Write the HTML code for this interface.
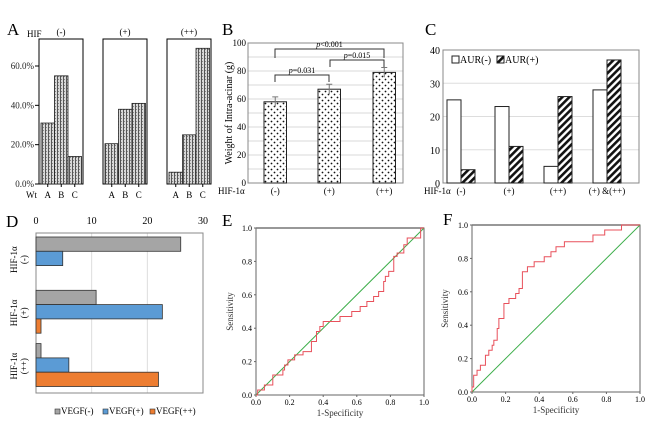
<!DOCTYPE html>
<html><head><meta charset="utf-8"><style>
body{margin:0;background:#fff}
svg{display:block;font-family:"Liberation Serif",serif}
</style></head><body>
<svg id="fig" width="650" height="429" xmlns="http://www.w3.org/2000/svg">
<defs>
<pattern id="pA" width="3" height="3" patternUnits="userSpaceOnUse"><rect width="3" height="3" fill="#d8d8d8"/><rect width="1" height="3" fill="#555"/><rect x="1" y="1" width="1" height="1" fill="#888"/></pattern>
<pattern id="pB" width="6" height="6" patternUnits="userSpaceOnUse"><rect width="6" height="6" fill="#fff"/><circle cx="1.5" cy="1.5" r="0.9" fill="#111"/><circle cx="4.5" cy="4.5" r="0.9" fill="#111"/></pattern>
<pattern id="pC" width="5" height="5" patternUnits="userSpaceOnUse" patternTransform="rotate(45)"><rect width="5" height="5" fill="#fff"/><rect width="2.6" height="5" fill="#111"/></pattern>
</defs>
<g id="root"></g>
</svg>
<script>
// Panel A data
const aGroups=["(-)","(+)","(++)"];
const aCats=["A","B","C"];
const aVals=[[31,55,14],[20.5,38,41],[6,25,69]];
const aTicks=[0,20,40,60];
// Panel B data
const bCats=["(-)","(+)","(++)"];
const bVals=[58,67,79];
const bErr=[3.5,3.5,3.5];
const bTicks=[0,20,40,60,80,100];
// Panel C data
const cCats=["(-)","(+)","(++)","(+) &(++)"];
const cNeg=[25,23,5,28];
const cPos=[4,11,26,37];
const cTicks=[0,10,20,30,40];
// Panel D data
const dGroups=[["HIF-1α","(-)"],["HIF-1α","(+)"],["HIF-1α","(++)"]];
const dNeg=[26,10.8,0.9];
const dPlus=[4.8,22.7,5.9];
const dPP=[0,0.9,22];
const dTicks=[0,10,20,30];
// Panel E ROC
const eFpr=[0,0.01,0.05,0.10,0.16,0.17,0.19,0.23,0.28,0.33,0.36,0.38,0.40,0.50,0.57,0.62,0.66,0.70,0.73,0.76,0.77,0.79,0.82,0.84,0.88,0.90,0.98,1.0];
const eTpr=[0,0.03,0.06,0.12,0.15,0.18,0.21,0.24,0.26,0.32,0.38,0.41,0.44,0.47,0.50,0.53,0.56,0.59,0.62,0.68,0.71,0.74,0.83,0.85,0.90,0.94,1.0,1.0];
// Panel F ROC
const fFpr=[0,0,0.01,0.03,0.05,0.08,0.10,0.12,0.13,0.15,0.16,0.19,0.22,0.26,0.28,0.30,0.33,0.37,0.43,0.47,0.50,0.55,0.72,0.79,0.89,1.0];
const fTpr=[0,0.03,0.10,0.13,0.16,0.22,0.25,0.28,0.31,0.38,0.44,0.53,0.56,0.59,0.62,0.72,0.75,0.78,0.81,0.84,0.87,0.90,0.94,0.97,1.0,1.0];
const rocTicks=[0,0.2,0.4,0.6,0.8,1.0];

const NS="http://www.w3.org/2000/svg";
const root=document.getElementById('root');
function mk(tag,attrs,parent,txt){const e=document.createElementNS(NS,tag);for(const k in attrs)e.setAttribute(k,attrs[k]);if(txt!==undefined)e.textContent=txt;(parent||root).appendChild(e);return e;}
function grp(name){const g=mk('g',{});return g;}

// ---------- Panel A ----------
const gA=grp('panel-a');
let t=mk('text',{x:7,y:35,'font-size':17},gA,'A');
const ayA=v=>184-v*(118/60);
t=mk('text',{x:27,y:37,'font-size':9},gA,'HIF');
aTicks.forEach(v=>{const l=mk('text',{x:34,y:ayA(v)+3,'font-size':9,'text-anchor':'end',fill:'#222'},gA,v.toFixed(1)+'%');mk('line',{x1:35,x2:39,y1:ayA(v),y2:ayA(v),stroke:'#000'},gA);});
const boxX=[39,103,167];
aGroups.forEach((gname,gi)=>{
  const bx=boxX[gi];
  const r=mk('rect',{x:bx,y:39,width:44,height:145,fill:'none',stroke:'#000'},gA);
  const h=mk('text',{x:bx+22,y:35,'font-size':9,'text-anchor':'middle'},gA,gname);
  aVals[gi].forEach((v,ci)=>{
    const x=bx+2+ci*13.5;
    const b=mk('rect',{x:x,y:ayA(v),width:13.5,height:184-ayA(v),fill:'url(#pA)',stroke:'#222','stroke-width':0.8},gA);
    
    mk('line',{x1:x+6.75,x2:x+6.75,y1:184,y2:187,stroke:'#000'},gA);
    const c=mk('text',{x:x+6.75,y:198,'font-size':9,'text-anchor':'middle'},gA,aCats[ci]);
  });
});
t=mk('text',{x:26,y:198,'font-size':9},gA,'Wt');

// ---------- Panel B ----------
const gB=grp('panel-b');
t=mk('text',{x:222,y:35,'font-size':17},gB,'B');
const byB=v=>183-v*1.4;
for(let v=10;v<=90;v+=10){const l=mk('line',{x1:248,x2:403,y1:byB(v),y2:byB(v),stroke:'#d9d9d9'},gB);}
mk('rect',{x:248,y:43,width:155,height:140,fill:'none',stroke:'#888'},gB);
bTicks.forEach(v=>{const l=mk('text',{x:246,y:byB(v)+3,'font-size':9,'text-anchor':'end'},gB,v);});
t=mk('text',{x:0,y:0,'font-size':10,'text-anchor':'middle',transform:'translate(232,113) rotate(-90)'},gB,'Weight of Intra-acinar (g)');
const bX=[264,318,373];
bVals.forEach((v,i)=>{
  const b=mk('rect',{x:bX[i],y:byB(v),width:22.5,height:183-byB(v),fill:'url(#pB)',stroke:'#222'},gB);
  const cx=bX[i]+11.25;
  const e=mk('path',{d:`M${cx},${byB(v-bErr[i])}V${byB(v+bErr[i])}M${cx-3},${byB(v+bErr[i])}H${cx+3}`,stroke:'#777',fill:'none'},gB);
  const c=mk('text',{x:cx,y:194,'font-size':9,'text-anchor':'middle'},gB,bCats[i]);
});
t=mk('text',{x:218,y:194,'font-size':9},gB,'HIF-1α');
function bracket(x1,x2,y,ly1,ly2,label){
  const p=mk('path',{d:`M${x1},${ly1}V${y}H${x2}V${ly2}`,fill:'none',stroke:'#333'},gB);
  const tx=mk('text',{x:(x1+x2)/2,y:y-2,'font-size':8,'text-anchor':'middle'},gB);
  mk('tspan',{'font-style':'italic'},tx,'p');mk('tspan',{},tx,label);
}
bracket(275,329,75,82,82,'=0.031');
bracket(330,384,60,67,67,'=0.015');
bracket(275,384,49,58,58,'<0.001');

// ---------- Panel C ----------
const gC=grp('panel-c');
t=mk('text',{x:425,y:35,'font-size':17},gC,'C');
const cyC=v=>183-v*3.325;
[10,20,30].forEach(v=>{const l=mk('line',{x1:443,x2:639,y1:cyC(v),y2:cyC(v),stroke:'#ddd'},gC);});
mk('rect',{x:443,y:50,width:196,height:133,fill:'none',stroke:'#888'},gC);
cTicks.forEach(v=>{const l=mk('text',{x:440,y:cyC(v)+4,'font-size':10,'text-anchor':'end'},gC,v);});
const cX=[447,495,544,593];
cCats.forEach((c,i)=>{
  const w=mk('rect',{x:cX[i],y:cyC(cNeg[i]),width:14,height:183-cyC(cNeg[i]),fill:'#fff',stroke:'#222'},gC);
  const h=mk('rect',{x:cX[i]+14,y:cyC(cPos[i]),width:14,height:183-cyC(cPos[i]),fill:'url(#pC)',stroke:'#222'},gC);
  const l=mk('text',{x:cX[i]+14,y:194,'font-size':9,'text-anchor':'middle'},gC,c);
});
t=mk('text',{x:424,y:194,'font-size':9},gC,'HIF-1α');
const lc=grp('c-legend');gC.appendChild(lc);
mk('rect',{x:452,y:56,width:7,height:7,fill:'#fff',stroke:'#222'},lc);
mk('text',{x:460,y:63,'font-size':10},lc,'AUR(-)');
mk('rect',{x:497,y:56,width:7,height:7,fill:'url(#pC)',stroke:'#222'},lc);
mk('text',{x:505,y:63,'font-size':10},lc,'AUR(+)');

// ---------- Panel D ----------
const gD=grp('panel-d');
t=mk('text',{x:6,y:227,'font-size':17},gD,'D');
const dxD=v=>36+v*(167/30);
[10,20].forEach(v=>{const l=mk('line',{x1:dxD(v),x2:dxD(v),y1:233,y2:393,stroke:'#ddd'},gD);});
mk('rect',{x:36,y:233,width:167,height:160,fill:'none',stroke:'#888'},gD);
dTicks.forEach(v=>{const l=mk('text',{x:dxD(v),y:224,'font-size':10,'text-anchor':'middle'},gD,v);});
const dSeries=[[dNeg,'#a5a5a5','d-bar-vegf-neg'],[dPlus,'#5b9bd5','d-bar-vegf-pos'],[dPP,'#ed7d31','d-bar-vegf-pp']];
dGroups.forEach((g,gi)=>{
  dSeries.forEach((s,si)=>{
    const v=s[0][gi]; if(v<=0) return;
    const b=mk('rect',{x:36,y:233+gi*53.3+4+si*14.3,width:dxD(v)-36,height:14.3,fill:s[1],stroke:'#333','stroke-width':0.8},gD);
    
  });
  const cy=233+gi*53.3+26.6;
  const l=mk('text',{'font-size':9,'text-anchor':'middle',transform:`translate(17,${cy}) rotate(-90)`},gD);
  mk('tspan',{x:0,y:0},l,g[0]);mk('tspan',{x:0,y:10},l,g[1]);
});
const ld=grp('d-legend');gD.appendChild(ld);
[['#a5a5a5','VEGF(-)',55],['#5b9bd5','VEGF(+)',103],['#ed7d31','VEGF(++)',150]].forEach(e=>{
  mk('rect',{x:e[2],y:409,width:5,height:5,fill:e[0],stroke:'#333','stroke-width':0.6},ld);
  mk('text',{x:e[2]+6,y:414,'font-size':9},ld,e[1]);
});

// ---------- ROC panels ----------
function roc(name,letter,lx,ly,L,R,T,B,fpr,tpr,titleX){
  const g=grp(name);
  const X=v=>L+v*(R-L), Y=v=>B-v*(B-T);
  let tt=mk('text',{x:lx,y:ly,'font-size':17},g,letter);
  mk('rect',{x:L,y:T,width:R-L,height:B-T,fill:'none',stroke:'#666'},g);
  mk('line',{x1:L,x2:R,y1:T,y2:T,stroke:'#777','stroke-width':1.6},g);
  rocTicks.forEach(v=>{
    const a=mk('text',{x:L-4,y:Y(v)+3,'font-size':8,'text-anchor':'end'},g,v.toFixed(1));
    const b=mk('text',{x:X(v),y:B+10,'font-size':8,'text-anchor':'middle'},g,v.toFixed(1));
    mk('line',{x1:L-2,x2:L,y1:Y(v),y2:Y(v),stroke:'#666'},g);
    mk('line',{x1:X(v),x2:X(v),y1:B,y2:B+2,stroke:'#666'},g);
  });
  tt=mk('text',{x:(L+R)/2,y:B+21,'font-size':9,'text-anchor':'middle',fill:'#333'},g,'1-Specificity');
  tt=mk('text',{'font-size':9,'text-anchor':'middle',fill:'#333',transform:`translate(${titleX},${(T+B)/2}) rotate(-90)`},g,'Sensitivity');
  const d=mk('line',{x1:X(0),y1:Y(0),x2:X(1),y2:Y(1),stroke:'#3cae4a','stroke-width':1},g);
  let p=`M${X(fpr[0])},${Y(tpr[0])}`;
  for(let i=1;i<fpr.length;i++){p+=`H${X(fpr[i])}V${Y(tpr[i])}`;}
  const c=mk('path',{d:p,fill:'none',stroke:'#e8505b','stroke-width':1},g);
}
roc('panel-e','E',222,226,256,424,228,395,eFpr,eTpr,233);
roc('panel-f','F',443,225,472,640,225,392,fFpr,fTpr,448);
</script>
</body></html>
